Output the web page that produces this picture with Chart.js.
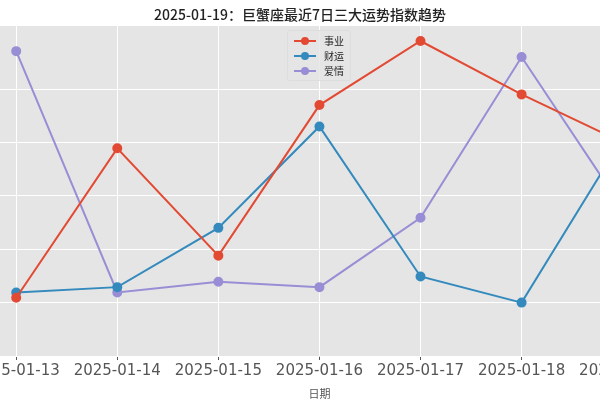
<!DOCTYPE html>
<html><head><meta charset="utf-8">
<script src="https://cdn.jsdelivr.net/npm/chart.js@4.4.1/dist/chart.umd.min.js"></script>
<style>
body{margin:0;width:600px;height:400px;overflow:hidden;background:#fff;position:relative;font-family:"Noto Sans CJK SC",sans-serif}
#wrap{position:absolute;left:-30px;top:0;width:700px;height:400px}
#title{position:absolute;top:4px;left:0;width:600px;text-align:center;font-size:14px;color:#222;font-weight:500}
#leg{position:absolute;left:287px;top:30px;background:rgba(229,229,229,0.85);border:1px solid #ddd;border-radius:3px;padding:2px 6px;font-size:10px;color:#222;line-height:15px}
.it{display:flex;align-items:center}
.sw{position:relative;width:22px;height:2px;margin-right:8px}
.sw i{position:absolute;left:7px;top:-3px;width:8px;height:8px;border-radius:50%}
</style></head><body>
<div id="wrap"><canvas id="c" width="700" height="400"></canvas></div>
<div id="title">2025-01-19：巨蟹座最近7日三大运势指数趋势</div>
<div id="leg"></div>
<script>
const dates=["2025-01-13","2025-01-14","2025-01-15","2025-01-16","2025-01-17","2025-01-18","2025-01-19"];
const career=[40.9,68.9,48.8,77.0,89.0,79.0,70.0];
const wealth=[41.9,42.9,54.0,73.0,44.9,40.0,70.8];
const love=[87.1,41.9,43.9,42.9,55.9,86.0,57.6];
const names=["事业","财运","爱情"];
const colors=["#E24A33","#348ABD","#988ED5"];
const series=[career,wealth,love];
const leg=document.getElementById('leg');
names.forEach((n,i)=>{leg.innerHTML+=`<div class="it"><div class="sw" style="background:${colors[i]}"><i style="background:${colors[i]}"></i></div>${n}</div>`;});
const bg={id:'bg',beforeDraw(c){const a=c.chartArea,x=c.ctx;x.save();x.fillStyle='#e5e5e5';x.fillRect(a.left,a.top,a.width,a.height);x.restore();}};
new Chart(document.getElementById('c'),{type:'line',
data:{datasets:series.map((s,i)=>({label:names[i],data:s.map((v,j)=>({x:j,y:v})),borderColor:colors[i],backgroundColor:colors[i],borderWidth:2,pointRadius:4,pointHoverRadius:4,tension:0}))},
options:{responsive:false,animation:false,
layout:{padding:{top:25,left:13.5,right:17,bottom:0}},
plugins:{legend:{display:false},title:{display:false},tooltip:{enabled:false}},
scales:{
x:{type:'linear',min:-0.3,max:6.3,border:{display:false},grid:{color:'#fff',lineWidth:1,drawTicks:true,tickColor:'#555',tickLength:4},
afterBuildTicks(s){s.ticks=dates.map((d,i)=>({value:i}));},
ticks:{autoSkip:false,maxRotation:0,color:'#555',font:{size:15,family:'"DejaVu Sans"'},padding:2,callback:v=>dates[v]},
title:{display:true,text:'日期',color:'#555',font:{size:11,family:'"Noto Sans CJK SC"'},padding:0},
afterFit(s){s.height=44;}},
y:{display:true,min:30,max:92,position:'left',border:{display:false},grid:{color:'#fff',lineWidth:1,drawTicks:false},ticks:{display:false,stepSize:10},afterFit(s){s.width=0;}}
}},plugins:[bg]});
</script></body></html>
